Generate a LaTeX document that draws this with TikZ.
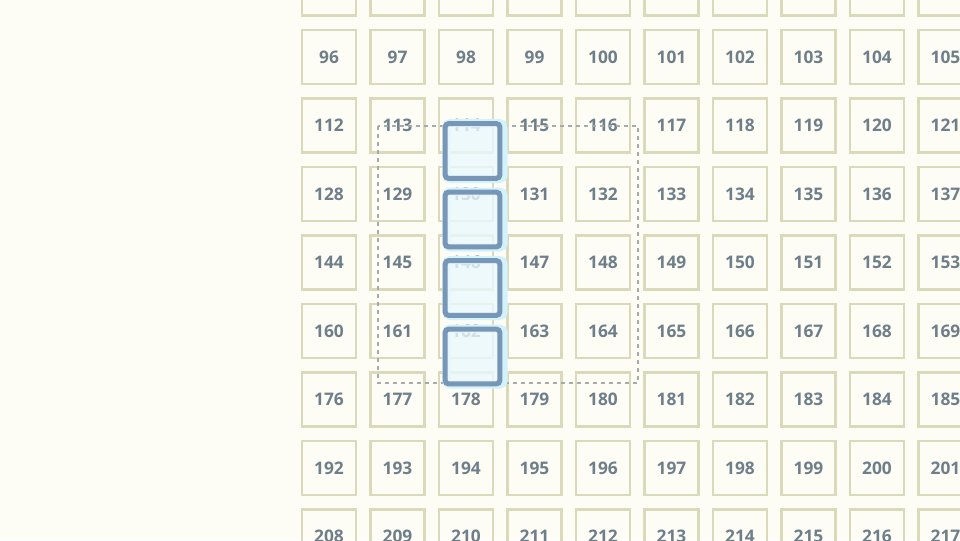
\documentclass[tikz,border=0pt]{standalone}
\usepackage{fontspec}
\setmainfont{Open Sans}
\definecolor{bgc}{HTML}{FDFDF6}
\definecolor{cellc}{HTML}{DADABA}
\definecolor{numc}{HTML}{6F7F8A}
\definecolor{selc}{HTML}{7896B6}
\definecolor{selfill}{HTML}{EAF8FD}
\definecolor{haloc}{HTML}{D2F2FD}
\definecolor{dashc}{HTML}{A4ABAA}
\begin{document}
\begin{tikzpicture}[x=0.75pt,y=-0.75pt]
\tikzset{
  cell/.style={draw=cellc, line width=1.9pt, minimum width=40.5pt, minimum height=40.5pt,
    inner sep=0pt, text=numc, font=\fontsize{13}{15}\selectfont\bfseries},
  selbox/.style={draw=selc, line width=3.75pt, rounded corners=2.5pt, fill=selfill, fill opacity=0.8,
    draw opacity=1, minimum width=41pt, minimum height=41pt, inner sep=0pt},
  halo/.style={draw=haloc, line width=6pt, rounded corners=3pt, minimum width=43pt, minimum height=42pt, inner sep=0pt},
  dashbox/.style={draw=dashc, line width=1.1pt, dash pattern=on 3pt off 3pt}
}
\useasboundingbox (0,0) rectangle (960,540);
\fill[bgc] (0,0) rectangle (960,540);
\begin{scope}
\clip (0,0) rectangle (960,540);
\foreach \c in {0,...,9} {
  \pgfmathtruncatemacro\n{80+\c}
  \node[cell] (c\n) at ({329+68.5*\c},-11.5) {};
}
\foreach \r in {6,...,13} {
  \foreach \c in {0,...,9} {
    \pgfmathtruncatemacro\n{16*\r+\c}
    \node[cell] (c\n) at ({329+68.5*\c},{57+68.5*(\r-6)}) {\n};
  }
}
\coordinate (d1) at (378,126);
\coordinate (d2) at (638,383);
\draw[dashbox] (d1) rectangle (d2);
\foreach \i/\y in {1/151,2/219.5,3/288,4/356.5} {
  \node[halo] (h\i) at (475,\y) {};
}
\foreach \i/\y in {1/151,2/219.5,3/288,4/356.5} {
  \node[selbox] (s\i) at (472.5,\y) {};
}
\end{scope}
\end{tikzpicture}
\end{document}
